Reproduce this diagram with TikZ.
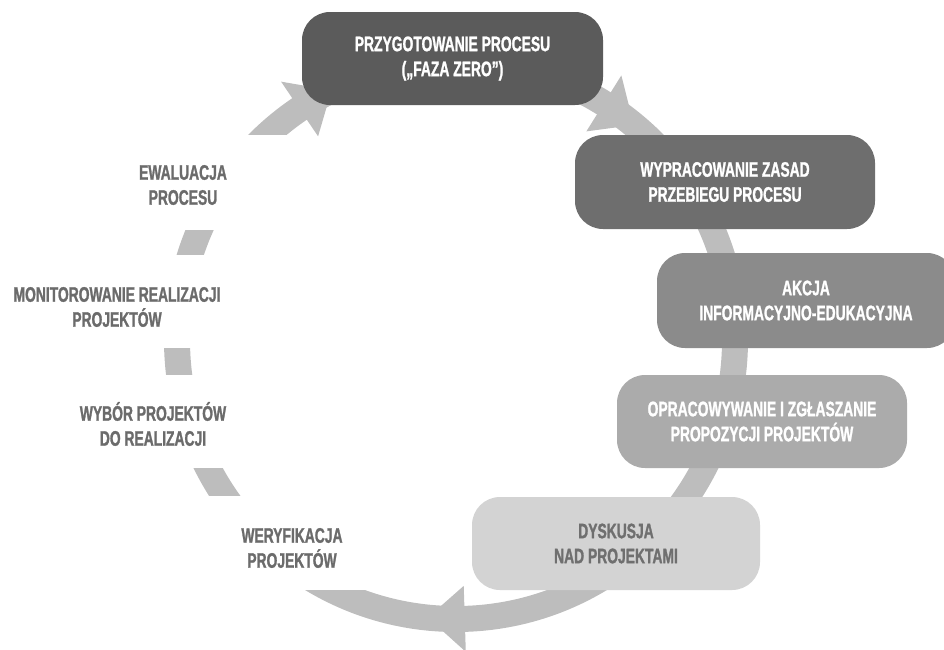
\documentclass[tikz,border=0pt]{standalone}
\usepackage{fontspec}
\newfontfamily\cond{Liberation Sans}[FakeStretch=0.66,FakeBold=1.2]
\usetikzlibrary{calc}
\definecolor{ringc}{HTML}{BDBDBD}
\definecolor{cA}{HTML}{5B5B5B}
\definecolor{cB}{HTML}{6E6E6E}
\definecolor{cC}{HTML}{8B8B8B}
\definecolor{cD}{HTML}{ABABAB}
\definecolor{cE}{HTML}{D3D3D3}
\definecolor{labelc}{HTML}{6B6B6B}
\definecolor{darktxt}{HTML}{6F6F6F}
\begin{document}
\begin{tikzpicture}[x=1pt,y=-1pt,
  txt/.style={align=center, font=\cond\bfseries\fontsize{21}{25}\selectfont},
  procbox/.style={txt, rounded corners=28pt, inner sep=0pt, text=white},
  sidelabel/.style={txt, text=labelc, inner sep=0pt},
  gap/.style={fill=white},
  ringband/.style={draw=ringc, line width=26pt},
  ringhead/.style={fill=ringc}]
\useasboundingbox (0,0) rectangle (944,649);
\clip (0,0) rectangle (944,649);
\coordinate (C) at (456,340);
% ring
\draw[ringband] (C) circle[radius=279pt];
% arrowheads
\foreach \a in {88.2,235.9,302} {
  \fill[ringhead] ($(C)+(\a:246)$) -- ($(C)+(\a:312)$) -- ($(C)+(\a+7.6:279)$) -- cycle;
}
% gaps in the ring
\fill[gap] (130,135) rectangle (300,230);
\fill[gap] (0,255) rectangle (235,348);
\fill[gap] (60,375) rectangle (240,468);
\fill[gap] (195,496) rectangle (375,590);
% process boxes
\node[procbox, fill=cA, minimum width=301pt, minimum height=93pt] (b1) at (452.5,58.5) {PRZYGOTOWANIE PROCESU\\(„FAZA ZERO”)};
\node[procbox, fill=cB, minimum width=300pt, minimum height=94pt] (b2) at (725,182) {WYPRACOWANIE ZASAD\\PRZEBIEGU PROCESU};
\node[procbox, fill=cC, minimum width=298pt, minimum height=95pt] (b3) at (806,300.5) {AKCJA\\INFORMACYJNO-EDUKACYJNA};
\node[procbox, fill=cD, minimum width=290pt, minimum height=93pt] (b4) at (762,421.5) {OPRACOWYWANIE I ZGŁASZANIE\\PROPOZYCJI PROJEKTÓW};
\node[procbox, fill=cE, text=darktxt, minimum width=288pt, minimum height=93pt] (b5) at (616,543.5) {DYSKUSJA\\NAD PROJEKTAMI};
% side labels
\node[sidelabel] (l1) at (183,185) {EWALUACJA\\PROCESU};
\node[sidelabel] (l2) at (117,307) {MONITOROWANIE REALIZACJI\\PROJEKTÓW};
\node[sidelabel] (l3) at (153,424) {WYBÓR PROJEKTÓW\\DO REALIZACJI};
\node[sidelabel] (l4) at (292,548) {WERYFIKACJA\\PROJEKTÓW};
\end{tikzpicture}
\end{document}
